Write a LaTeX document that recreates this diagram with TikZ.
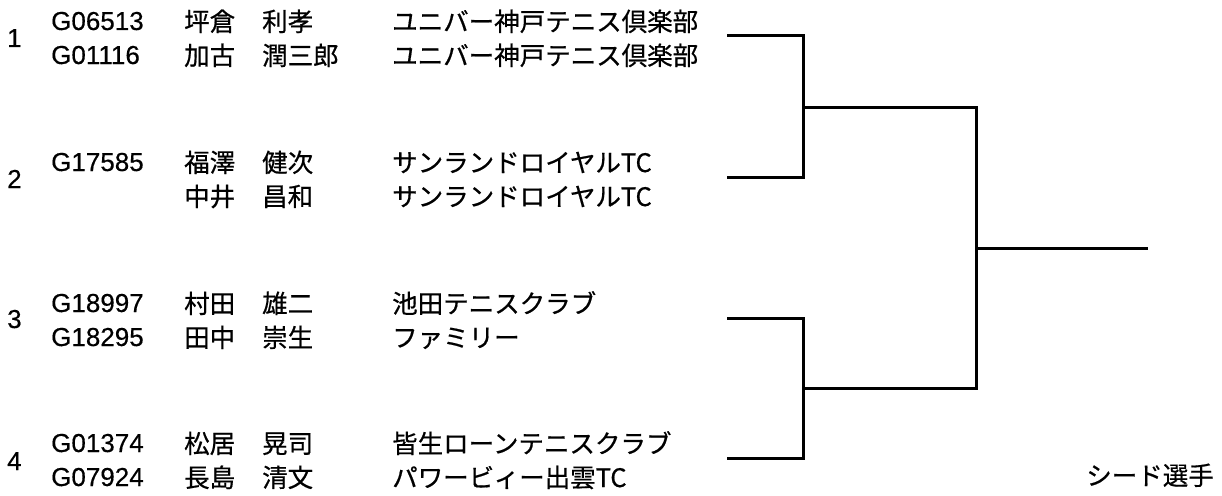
\documentclass[tikz,border=0pt]{standalone}
\usepackage{fontspec}
\setmainfont{Liberation Sans}[FakeBold=0.4]
\newfontfamily\jpfont{Noto Sans CJK JP}[FakeBold=0.6]
\usepackage{tikz}

\begin{document}
\begin{tikzpicture}[
  x=1pt, y=-1pt,
  txt/.style={inner sep=0pt, anchor=base west, font=\fontsize{26}{30}\selectfont},
  seed/.style={txt},
  gid/.style={txt},
  jp/.style={txt, font=\fontsize{25.5}{30}\selectfont\jpfont},
  line/.style={line width=3pt, line join=miter}
]
\useasboundingbox (0,0) rectangle (1222,495);

% Seed 1
\node[seed] (n1) at (7,47) {1};
\node[gid] (id1a) at (51,30) {G06513};
\node[jp] (sei1a) at (184,31) {坪倉};
\node[jp] (mei1a) at (262,31) {利孝};
\node[jp] (club1a) at (392,31) {ユニバー神戸テニス倶楽部};
\node[gid] (id1b) at (51,64) {G01116};
\node[jp] (sei1b) at (184,65) {加古};
\node[jp] (mei1b) at (262,65) {潤三郎};
\node[jp] (club1b) at (392,65) {ユニバー神戸テニス倶楽部};

% Seed 2
\node[seed] (n2) at (7,188) {2};
\node[gid] (id2a) at (51,171) {G17585};
\node[jp] (sei2a) at (184,172) {福澤};
\node[jp] (mei2a) at (262,172) {健次};
\node[jp] (club2a) at (392,172) {サンランドロイヤルTC};
\node[jp] (sei2b) at (184,206) {中井};
\node[jp] (mei2b) at (262,206) {昌和};
\node[jp] (club2b) at (392,206) {サンランドロイヤルTC};

% Seed 3
\node[seed] (n3) at (7,328) {3};
\node[gid] (id3a) at (51,312) {G18997};
\node[jp] (sei3a) at (184,313) {村田};
\node[jp] (mei3a) at (262,313) {雄二};
\node[jp] (club3a) at (392,313) {池田テニスクラブ};
\node[gid] (id3b) at (51,346) {G18295};
\node[jp] (sei3b) at (184,347) {田中};
\node[jp] (mei3b) at (262,347) {崇生};
\node[jp] (club3b) at (392,347) {ファミリー};

% Seed 4
\node[seed] (n4) at (7,470) {4};
\node[gid] (id4a) at (51,452) {G01374};
\node[jp] (sei4a) at (184,453) {松居};
\node[jp] (mei4a) at (262,453) {晃司};
\node[jp] (club4a) at (392,453) {皆生ローンテニスクラブ};
\node[gid] (id4b) at (51,486) {G07924};
\node[jp] (sei4b) at (184,487) {長島};
\node[jp] (mei4b) at (262,487) {清文};
\node[jp] (club4b) at (392,487) {パワービィー出雲TC};

\node[jp, anchor=base east] (note) at (1214,485) {シード選手};

% Bracket
\coordinate (r1) at (727,36);
\coordinate (r2) at (727,177);
\coordinate (r3) at (727,318);
\coordinate (r4) at (727,458);
\coordinate (s1) at (803,107);
\coordinate (s2) at (803,388);
\coordinate (f) at (976,248);
\coordinate (w) at (1148,248);

\draw[line] (r1) -| (s1) |- (r2);
\draw[line] (r3) -| (s2) |- (r4);
\draw[line] (s1) -| (f) |- (s2);
\draw[line] (f) -- (w);

\end{tikzpicture}
\end{document}
